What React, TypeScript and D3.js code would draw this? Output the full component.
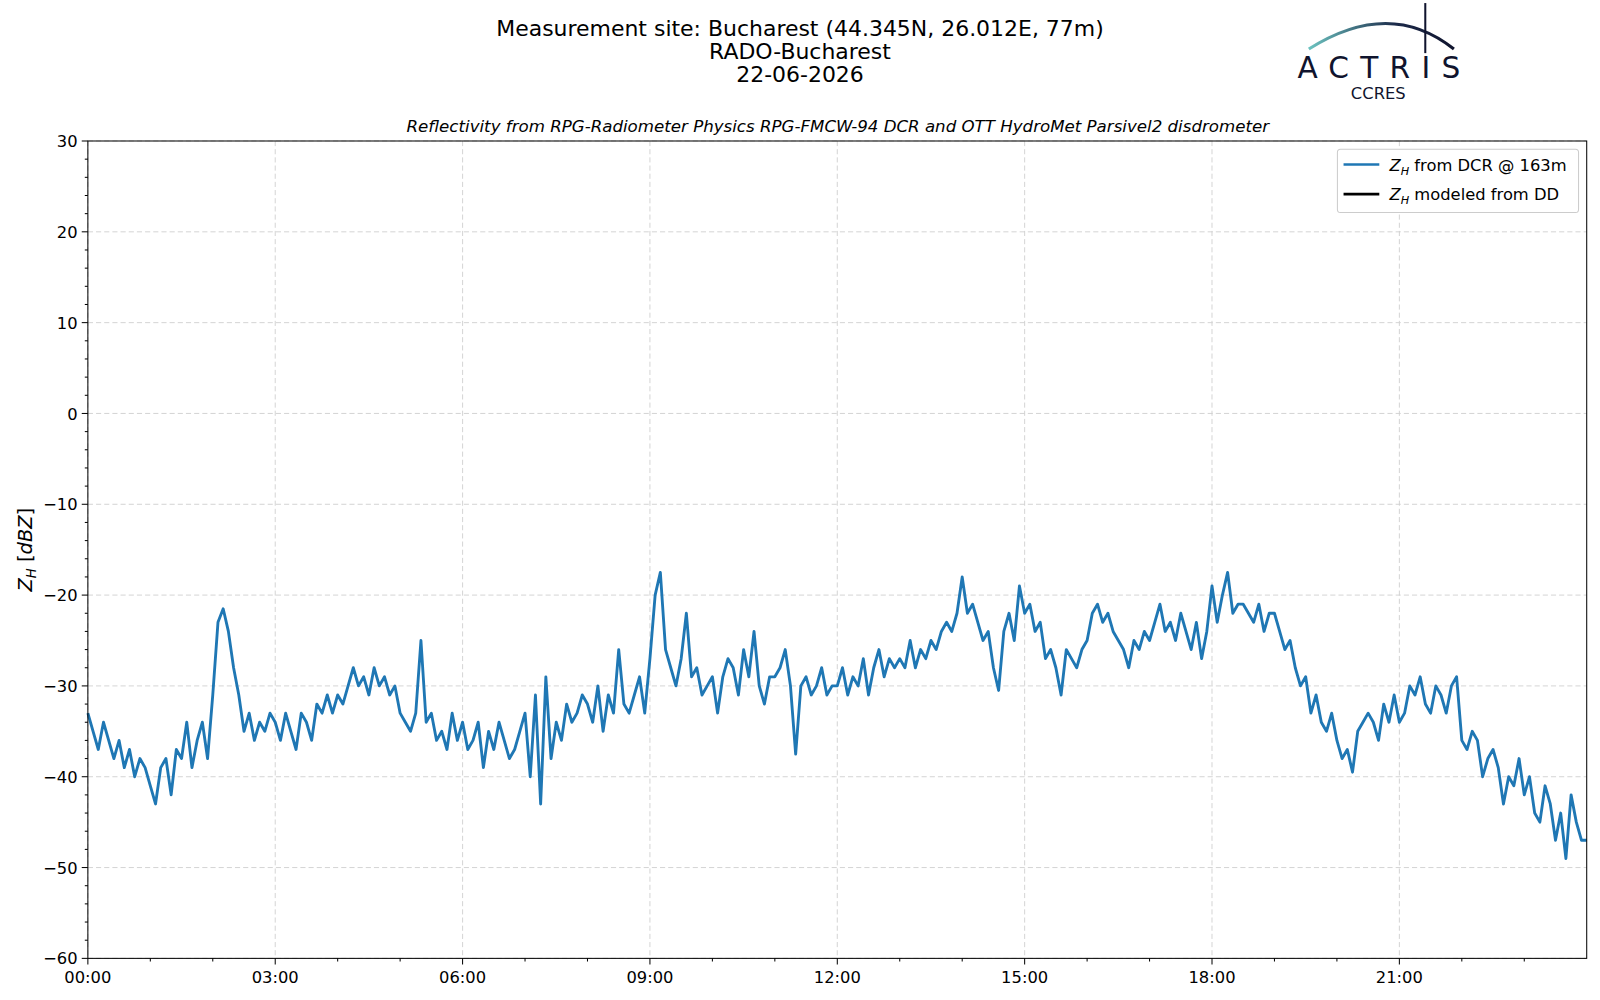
import React from 'react';
import * as d3 from 'd3';

// 5-minute readings of Z_H from the DCR, 00:00 .. 24:00 (one row per hour)
const zhValues = [
  -33, -35, -37, -34, -36, -38, -36, -39, -37, -40, -38, -39,
  -41, -43, -39, -38, -42, -37, -38, -34, -39, -36, -34, -38,
  -31, -23, -21.5, -24, -28, -31, -35, -33, -36, -34, -35, -33,
  -34, -36, -33, -35, -37, -33, -34, -36, -32, -33, -31, -33,
  -31, -32, -30, -28, -30, -29, -31, -28, -30, -29, -31, -30,
  -33, -34, -35, -33, -25, -34, -33, -36, -35, -37, -33, -36,
  -34, -37, -36, -34, -39, -35, -37, -34, -36, -38, -37, -35,
  -33, -40, -31, -43, -29, -38, -34, -36, -32, -34, -33, -31,
  -32, -34, -30, -35, -31, -33, -26, -32, -33, -31, -29, -33,
  -27, -20, -17.5, -26, -28, -30, -27, -22, -29, -28, -31, -30,
  -29, -33, -29, -27, -28, -31, -26, -29, -24, -30, -32, -29,
  -29, -28, -26, -30, -37.5, -30, -29, -31, -30, -28, -31, -30,
  -30, -28, -31, -29, -30, -27, -31, -28, -26, -29, -27, -28,
  -27, -28, -25, -28, -26, -27, -25, -26, -24, -23, -24, -22,
  -18, -22, -21, -23, -25, -24, -28, -30.5, -24, -22, -25, -19,
  -22, -21, -24, -23, -27, -26, -28, -31, -26, -27, -28, -26,
  -25, -22, -21, -23, -22, -24, -25, -26, -28, -25, -26, -24,
  -25, -23, -21, -24, -23, -25, -22, -24, -26, -23, -27, -24,
  -19, -23, -20, -17.5, -22, -21, -21, -22, -23, -21, -24, -22,
  -22, -24, -26, -25, -28, -30, -29, -33, -31, -34, -35, -33,
  -36, -38, -37, -39.5, -35, -34, -33, -34, -36, -32, -34, -31,
  -34, -33, -30, -31, -29, -32, -33, -30, -31, -33, -30, -29,
  -36, -37, -35, -36, -40, -38, -37, -39, -43, -40, -41, -38,
  -42, -40, -44, -45, -41, -43, -47, -44, -49, -42, -45, -47,
  -47,
];
const xTickLabels = ['00:00', '03:00', '06:00', '09:00', '12:00', '15:00', '18:00', '21:00'];
const yTicks = [-60, -50, -40, -30, -20, -10, 0, 10, 20, 30];

const W = 1600, H = 1000;
const S = 1600 / 1566;
const L = 86, R = 1553, T = 138, B = 938;

export default function App() {
  const x = d3.scaleLinear().domain([0, 24]).range([L, R]);
  const y = d3.scaleLinear().domain([-60, 30]).range([B, T]);
  const line = d3.line<number>().x((_, i) => x(i / 12)).y(d => y(d));
  const minorY = d3.range(-60, 31, 2).filter(v => v % 10 !== 0);
  const minorX = d3.range(0, 24).filter(h => h % 3 !== 0);
  const font = 'DejaVu Sans, sans-serif';
  const fmtY = (v: number) => (v < 0 ? '\u2212' + Math.abs(v) : String(v));

  return (
    <div style={{ position: 'absolute', left: 0, top: 0 }}>
      <svg width={W} height={H} fontFamily={font}>
        <rect width={W} height={H} fill="#fff" />
        <defs>
          <linearGradient id="arcg" x1="0" x2="1">
            <stop offset="0%" stopColor="#6cc3c0" />
            <stop offset="60%" stopColor="#1c2a4a" />
            <stop offset="100%" stopColor="#10142e" />
          </linearGradient>
        </defs>
        <g transform={`scale(${S})`}>
          {/* titles */}
          <g textAnchor="middle" fontSize={21.5} fill="#000">
            <text x={783} y={35}>Measurement site: Bucharest (44.345N, 26.012E, 77m)</text>
            <text x={783} y={58}>RADO-Bucharest</text>
            <text x={783} y={80}>22-06-2026</text>
          </g>
          <text x={820} y={129} textAnchor="middle" fontSize={16.3} fontStyle="italic">
            Reflectivity from RPG-Radiometer Physics RPG-FMCW-94 DCR and OTT HydroMet Parsivel2 disdrometer
          </text>
          {/* logo */}
          <g>
            <path d="M1281,48 Q1360,-2 1423,48" fill="none" stroke="url(#arcg)" strokeWidth={3} />
            <line x1={1395} y1={3} x2={1395} y2={52} stroke="#10142e" strokeWidth={2} />
            <text x={1355} y={76} textAnchor="middle" fontSize={29} letterSpacing={11} fill="#10142e">ACTRIS</text>
            <text x={1349} y={97} textAnchor="middle" fontSize={16} fill="#10142e">CCRES</text>
          </g>
          {/* grid */}
          <g stroke="#d0d0d0" strokeDasharray="5,3" strokeWidth={0.9}>
            {xTickLabels.map((_, i) => (
              <line key={'gx' + i} x1={x(i * 3)} x2={x(i * 3)} y1={T} y2={B} />
            ))}
            {yTicks.map(v => (
              <line key={'gy' + v} x1={L} x2={R} y1={y(v)} y2={y(v)} />
            ))}
          </g>
          <path d={line(zhValues) ?? ''} fill="none" stroke="#1f77b4" strokeWidth={2.8} strokeLinejoin="round" />
          <rect x={L} y={T} width={R - L} height={B - T} fill="none" stroke="#000" strokeWidth={1} />
          {/* ticks */}
          <g stroke="#000">
            {yTicks.map(v => <line key={'ty' + v} x1={L - 6} x2={L} y1={y(v)} y2={y(v)} />)}
            {minorY.map(v => <line key={'my' + v} x1={L - 3} x2={L} y1={y(v)} y2={y(v)} />)}
            {xTickLabels.map((_, i) => <line key={'tx' + i} x1={x(i * 3)} x2={x(i * 3)} y1={B} y2={B + 6} />)}
            {minorX.map(h => <line key={'mx' + h} x1={x(h)} x2={x(h)} y1={B} y2={B + 3} />)}
          </g>
          <g fontSize={16} fill="#000">
            {yTicks.map(v => (
              <text key={'ly' + v} x={L - 10} y={y(v) + 6} textAnchor="end">{fmtY(v)}</text>
            ))}
            {xTickLabels.map((t, i) => (
              <text key={'lx' + i} x={x(i * 3)} y={B + 24} textAnchor="middle">{t}</text>
            ))}
          </g>
          <text transform={`translate(31,538) rotate(-90)`} textAnchor="middle" fontSize={19}>
            <tspan fontStyle="italic">Z</tspan>
            <tspan fontStyle="italic" fontSize={13} dy={4}>H</tspan>
            <tspan dy={-4}> [</tspan>
            <tspan fontStyle="italic">dBZ</tspan>
            <tspan>]</tspan>
          </text>
          {/* legend */}
          <g>
            <rect x={1309} y={146} width={236} height={62} rx={3} fill="#fff" stroke="#ccc" />
            <line x1={1315} x2={1350} y1={161} y2={161} stroke="#1f77b4" strokeWidth={2.5} />
            <line x1={1315} x2={1350} y1={190} y2={190} stroke="#000" strokeWidth={2.5} />
            <text x={1360} y={167} fontSize={16}>
              <tspan fontStyle="italic">Z</tspan>
              <tspan fontStyle="italic" fontSize={11} dy={4}>H</tspan>
              <tspan dy={-4}> from DCR @ 163m</tspan>
            </text>
            <text x={1360} y={196} fontSize={16}>
              <tspan fontStyle="italic">Z</tspan>
              <tspan fontStyle="italic" fontSize={11} dy={4}>H</tspan>
              <tspan dy={-4}> modeled from DD</tspan>
            </text>
          </g>
        </g>
      </svg>
    </div>
  );
}
